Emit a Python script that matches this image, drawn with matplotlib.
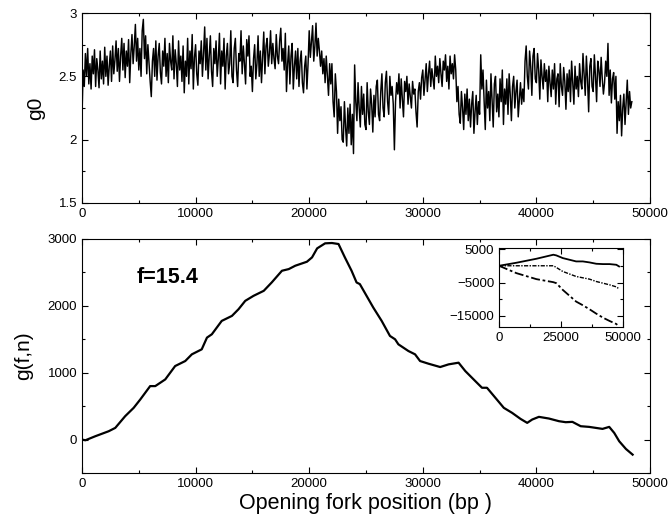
import numpy as np
import matplotlib
matplotlib.use("Agg")
import matplotlib.pyplot as plt
from matplotlib.ticker import MultipleLocator, FuncFormatter

plt.rcParams['font.family'] = ['Liberation Sans', 'DejaVu Sans']

g0_step = 100
g0 = [
    2.18, 2.55, 2.42, 2.68, 2.50, 2.72, 2.44, 2.60, 2.40, 2.66,
    2.52, 2.71, 2.42, 2.64, 2.55, 2.41, 2.70, 2.48, 2.62, 2.44,
    2.73, 2.50, 2.66, 2.43, 2.58, 2.70, 2.46, 2.74, 2.52, 2.63,
    2.78, 2.54, 2.72, 2.46, 2.66, 2.80, 2.55, 2.76, 2.49, 2.70,
    2.58, 2.79, 2.45, 2.68, 2.83, 2.60, 2.74, 2.91, 2.62, 2.80,
    2.55, 2.72, 2.50, 2.86, 2.95, 2.64, 2.82, 2.52, 2.75, 2.60,
    2.46, 2.34, 2.62, 2.72, 2.50, 2.78, 2.47, 2.66, 2.76, 2.53,
    2.44, 2.70, 2.58, 2.80, 2.50, 2.68, 2.45, 2.76, 2.62, 2.55,
    2.82, 2.48, 2.71, 2.60, 2.42, 2.78, 2.55, 2.66, 2.46, 2.74,
    2.37, 2.62, 2.50, 2.80, 2.44, 2.70, 2.56, 2.83, 2.40, 2.65,
    2.75, 2.52, 2.43, 2.70, 2.60, 2.78, 2.50, 2.68, 2.89, 2.55,
    2.80, 2.48, 2.66, 2.82, 2.54, 2.42, 2.72, 2.60, 2.78, 2.50,
    2.64, 2.84, 2.44, 2.70, 2.58, 2.80, 2.40, 2.66, 2.76, 2.52,
    2.60, 2.86, 2.50, 2.45, 2.72, 2.80, 2.55, 2.42, 2.68, 2.62,
    2.86, 2.52, 2.74, 2.60, 2.44, 2.79, 2.66, 2.82, 2.50, 2.58,
    2.38, 2.64, 2.75, 2.48, 2.60, 2.82, 2.50, 2.70, 2.45, 2.66,
    2.85, 2.52, 2.74, 2.80, 2.58, 2.68, 2.86, 2.60, 2.76, 2.64,
    2.56, 2.83, 2.66, 2.60, 2.78, 2.88, 2.62, 2.72, 2.55, 2.84,
    2.38, 2.60, 2.74, 2.44, 2.66, 2.76, 2.40, 2.58, 2.70, 2.48,
    2.72, 2.42, 2.62, 2.70, 2.45, 2.37, 2.58, 2.66, 2.40, 2.60,
    2.86, 2.65, 2.78, 2.90, 2.62, 2.74, 2.92, 2.66, 2.80, 2.70,
    2.58, 2.70, 2.52, 2.64, 2.45, 2.66, 2.50, 2.35, 2.60, 2.44,
    2.60, 2.30, 2.18, 2.52, 2.38, 2.05, 2.32, 2.15, 2.26, 2.00,
    1.98, 2.30, 2.10, 1.95, 2.25, 2.05, 2.28, 1.96, 2.20, 1.89,
    2.59, 2.30, 2.15, 2.45, 2.25, 2.10, 2.42, 2.20, 2.36, 2.12,
    2.08, 2.45, 2.22, 2.12, 2.40, 2.28, 2.06, 2.35, 2.18, 2.42,
    2.47, 2.20, 2.15, 2.38, 2.52, 2.25, 2.18, 2.45, 2.54, 2.30,
    2.20, 2.50, 2.35, 2.42, 2.28, 1.92, 2.30, 2.45, 2.36, 2.52,
    2.25, 2.48, 2.32, 2.18, 2.46, 2.38, 2.50, 2.28, 2.44, 2.34,
    2.25, 2.46, 2.36, 2.40, 2.22, 2.10, 2.38, 2.45, 2.32, 2.49,
    2.55, 2.35, 2.48, 2.60, 2.38, 2.52, 2.62, 2.42, 2.56, 2.48,
    2.40, 2.66, 2.50, 2.58, 2.45, 2.64, 2.52, 2.42, 2.62, 2.55,
    2.67, 2.46, 2.58, 2.40, 2.66, 2.52, 2.60, 2.48, 2.67, 2.55,
    2.30, 2.42, 2.20, 2.13, 2.38, 2.25, 2.08, 2.36, 2.20, 2.40,
    2.15, 2.32, 2.10, 2.28, 2.38, 2.05, 2.22, 2.35, 2.12, 2.30,
    2.20, 2.67, 2.40, 2.55, 2.30, 2.08, 2.47, 2.25, 2.38, 2.15,
    2.52, 2.30, 2.10, 2.44, 2.50, 2.22, 2.36, 2.18, 2.48, 2.30,
    2.55, 2.12, 2.40, 2.28, 2.48, 2.20, 2.52, 2.35, 2.15, 2.42,
    2.50, 2.25, 2.38, 2.47, 2.18, 2.32, 2.45, 2.28, 2.40, 2.30,
    2.62, 2.74, 2.50, 2.40, 2.70, 2.58, 2.35, 2.66, 2.72, 2.48,
    2.45, 2.68, 2.55, 2.32, 2.63, 2.50, 2.40, 2.60, 2.46, 2.55,
    2.30, 2.58, 2.45, 2.34, 2.55, 2.40, 2.60, 2.28, 2.48, 2.52,
    2.26, 2.60, 2.42, 2.35, 2.57, 2.46, 2.24, 2.52, 2.38, 2.55,
    2.30, 2.62, 2.45, 2.28, 2.58, 2.40, 2.50, 2.34, 2.60, 2.46,
    2.40, 2.68, 2.52, 2.35, 2.66, 2.48, 2.22, 2.58, 2.64, 2.42,
    2.38, 2.67, 2.50, 2.30, 2.62, 2.55, 2.42, 2.65, 2.48, 2.36,
    2.45, 2.62, 2.50, 2.76, 2.35, 2.55, 2.29, 2.48, 2.53, 2.32,
    2.50, 2.05, 2.30, 2.15, 2.35, 2.03, 2.25, 2.36, 2.12, 2.30,
    2.47, 2.20, 2.38, 2.25, 2.30,
]

# bottom panel: g(f,n) for f=15.4
gfn_x = [0, 300, 1170, 2350, 2930, 3800, 4550, 5130, 6000, 6450, 7330, 8200,
         9090, 9670, 10540, 11000, 11430, 12300, 13200, 13780, 14370, 15100,
         16000, 16700, 17600, 18200, 18770, 19800, 20250, 20700, 21400, 22000,
         22580, 23140, 23730, 24170, 24460, 25050, 25640, 26380, 27110, 27560,
         27850, 28730, 29320, 29760, 30500, 31530, 32270, 33150, 33740, 34620,
         35210, 35650, 36390, 37130, 37860, 38600, 39190, 39630, 40220, 41100,
         41990, 42580, 43170, 43900, 44640, 45230, 45820, 46410, 46850, 47290,
         47880, 48470]
gfn_y = [0, -10, 50, 125, 175, 350, 475, 600, 800, 800, 900, 1100,
         1175, 1275, 1350, 1525, 1575, 1775, 1850, 1950, 2075, 2150,
         2225, 2350, 2525, 2550, 2600, 2660, 2725, 2860, 2935, 2940,
         2925, 2725, 2525, 2350, 2325, 2150, 1975, 1775, 1550, 1500,
         1425, 1325, 1275, 1175, 1135, 1085, 1125, 1150, 1025, 875,
         775, 775, 625, 475, 400, 310, 250, 300, 340, 315,
         275, 260, 265, 200, 190, 175, 160, 190, 100, -25,
         -140, -225]

# inset: three curves
inset_x = [0, 7000, 15100, 21900, 23100, 25700, 31100, 33800, 36500, 39200,
           41900, 44600, 47300, 48400]
inset_solid = [0, 900, 2100, 3300, 3100, 2300, 1300, 1300, 1000, 600,
               500, 500, 300, -200]
inset_dotted = [0, 0, 0, 0, -500, -1700, -3200, -3600, -4000, -4700,
                -5200, -5700, -6300, -6900]
inset_dashdot = [0, -2200, -4000, -4900, -5200, -7200, -10700, -11800, -13000, -14300,
                 -15500, -16500, -17400, -18200]


def style_axes(ax, fs=9.5):
    ax.tick_params(which='both', direction='in', top=True, right=True,
                   labelsize=fs, width=0.8, pad=3.5)
    ax.tick_params(which='major', length=4)
    ax.tick_params(which='minor', length=2.5)
    for s in ax.spines.values():
        s.set_linewidth(0.8)


fig = plt.figure(figsize=(6.71, 5.19), dpi=100)

ax1 = fig.add_axes([0.1222, 0.6089, 0.8465, 0.366])
x1 = np.arange(len(g0)) * g0_step
ax1.plot(x1, g0, color='black', lw=1.05)
ax1.set_xlim(0, 50000)
ax1.set_ylim(1.5, 3)
ax1.xaxis.set_major_locator(MultipleLocator(10000))
ax1.xaxis.set_minor_locator(MultipleLocator(5000))
ax1.yaxis.set_major_locator(MultipleLocator(0.5))
ax1.yaxis.set_minor_locator(MultipleLocator(0.25))
ax1.yaxis.set_major_formatter(FuncFormatter(lambda v, p: f'{v:g}'))
ax1.set_ylabel('g0', fontsize=15, labelpad=10)
style_axes(ax1)

ax2 = fig.add_axes([0.1222, 0.0886, 0.8465, 0.4509])
ax2.plot(gfn_x, gfn_y, color='black', lw=1.6)
ax2.set_xlim(0, 50000)
ax2.set_ylim(-500, 3000)
ax2.xaxis.set_major_locator(MultipleLocator(10000))
ax2.xaxis.set_minor_locator(MultipleLocator(5000))
ax2.yaxis.set_major_locator(MultipleLocator(1000))
ax2.yaxis.set_minor_locator(MultipleLocator(500))
ax2.set_ylabel('g(f,n)', fontsize=15, labelpad=10)
ax2.set_xlabel('Opening fork position (bp )', fontsize=15.5, labelpad=2)
ax2.text(4800, 2430, 'f=15.4', fontsize=15.5, fontweight='bold', va='center', ha='left')
style_axes(ax2)

ax3 = fig.add_axes([0.7437, 0.3699, 0.1848, 0.1522])
ax3.plot(inset_x, inset_solid, color='black', lw=1.3, ls='-')
ax3.plot(inset_x, inset_dotted, color='black', lw=1.0, ls=(0, (3, 1, 1, 1)))
ax3.plot(inset_x, inset_dashdot, color='black', lw=1.3, ls=(0, (5, 1.5, 1.5, 1.5)))
ax3.set_xlim(0, 50000)
ax3.set_ylim(-18300, 5300)
ax3.set_xticks([0, 25000, 50000])
ax3.xaxis.set_minor_locator(MultipleLocator(12500))
ax3.set_yticks([-15000, -5000, 5000])
ax3.yaxis.set_minor_locator(MultipleLocator(5000))
style_axes(ax3, fs=9.5)

fig.savefig('out.png', dpi=100)
